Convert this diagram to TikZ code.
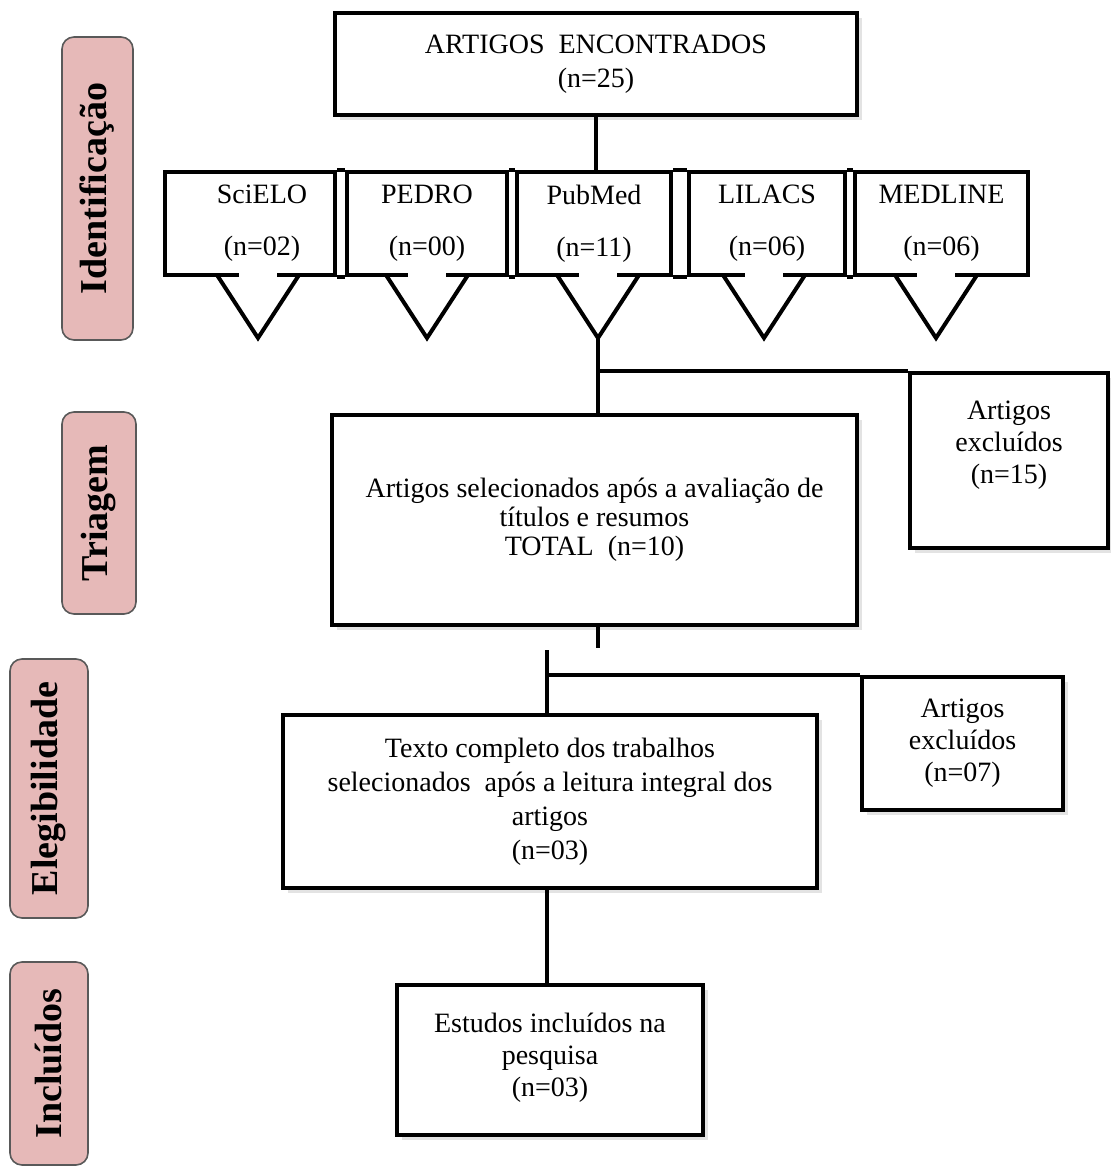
\documentclass[tikz,border=0pt]{standalone}
\usepackage{fontspec}
\setmainfont{Liberation Serif}
\usetikzlibrary{shadows}
\definecolor{phasepink}{HTML}{E6B9B8}
\definecolor{phaseline}{HTML}{595959}

\begin{document}
\begin{tikzpicture}[x=0.5pt, y=-0.5pt,
    every node/.style={font=\fontsize{14}{16}\selectfont, align=center, inner sep=0pt},
    box/.style={draw, rectangle, line width=2.2pt, fill=white, drop shadow={shadow xshift=2.6pt, shadow yshift=-2.6pt, opacity=0.22}},
    srcbox/.style={draw, rectangle, line width=2pt, fill=white, minimum height=51.5pt},
    phase/.style={draw=phaseline, line width=0.8pt, fill=phasepink, rounded corners=6pt, rotate=90, font=\fontsize{19}{22}\selectfont\bfseries},
    link/.style={line width=1.7pt}]
              \useasboundingbox (0,0) rectangle (1110,1167);

              \node[phase, minimum width=151.5pt, minimum height=35.5pt] (ident) at (97.5,188.5) {Identificação};
              \node[phase, minimum width=101pt, minimum height=37pt] (triag) at (99,513) {Triagem};
              \node[phase, minimum width=129.5pt, minimum height=39pt] (eleg) at (49,788.5) {Elegibilidade};
              \node[phase, minimum width=101.5pt, minimum height=39pt] (inclu) at (49,1063.5) {Incluídos};

              \node[box, minimum width=261pt, minimum height=51pt] (found) at (596,64) {ARTIGOS\ \ ENCONTRADOS\\[1pt](n=25)};

              \node[srcbox, minimum width=85pt] (sci) at (250,223.5) {\hspace*{12pt}SciELO\\[10pt]\hspace*{12pt}(n=02)};
              \node[srcbox, minimum width=80pt] (ped) at (427,223.5) {PEDRO\\[10pt](n=00)};
              \node[srcbox, minimum width=77pt] (pub) at (594,223.5) {PubMed\\[10pt](n=11)};
              \node[srcbox, minimum width=78pt] (lil) at (767,223.5) {LILACS\\[10pt](n=06)};
              \node[srcbox, minimum width=86.5pt] (med) at (941.5,223.5) {MEDLINE\\[10pt](n=06)};

              \foreach \a/\b in {sci/ped, ped/pub, pub/lil, lil/med}
                \draw[line width=2pt] (\a.north east) -- (\b.north west) (\a.south east) -- (\b.south west);

              \foreach \ax in {258,427,598,764,936} {
                \fill[white] (\ax-19,271) rectangle (\ax+19,279);
                \draw[line width=2pt] (\ax-41,275) -- (\ax,338) -- (\ax+41,275);
              }

              \node[box, minimum width=262.5pt, minimum height=105pt] (triage) at (594.5,520) {Artigos selecionados\ após a avaliação\ de\\[-1.5pt]títulos e resumos\\[-1.5pt]TOTAL\ \ (n=10)};
              \node[box, minimum width=99pt, minimum height=87.5pt] (excl1) at (1009,460.5) {Artigos\\excluídos\\(n=15)\\[2pt]\mbox{}};
              \node[box, minimum width=267pt, minimum height=86.5pt] (elig) at (550,801.5) {Texto completo dos trabalhos\\[1pt]selecionados\ \ após a leitura integral dos\\[1pt]artigos\\[1pt](n=03)};
              \node[box, minimum width=100.5pt, minimum height=66.5pt] (excl2) at (962.5,743.5) {Artigos\\excluídos\\(n=07)};
              \node[box, minimum width=153pt, minimum height=75pt] (incl) at (550,1060) {Estudos incluídos na\\pesquisa\\(n=03)\\[-11pt]\mbox{}};

              \coordinate (pubtip) at (598,338);
              \coordinate (cut) at (598,648);
              \coordinate (resume) at (547,650);

              \draw[link] (found.south) -- (found.south |- pub.north);
              \draw[link] (pubtip) -- (pubtip |- triage.north);
              \draw[link] (pubtip |- excl1.north) -- (excl1.north west);
              \draw[link] (pubtip |- triage.south) -- (cut);
              \draw[link] (resume) -- (resume |- elig.north);
              \draw[link] (resume |- excl2.north) -- (excl2.north west);
              \draw[link] (resume |- elig.south) -- (resume |- incl.north);
            \end{tikzpicture}
\end{document}
